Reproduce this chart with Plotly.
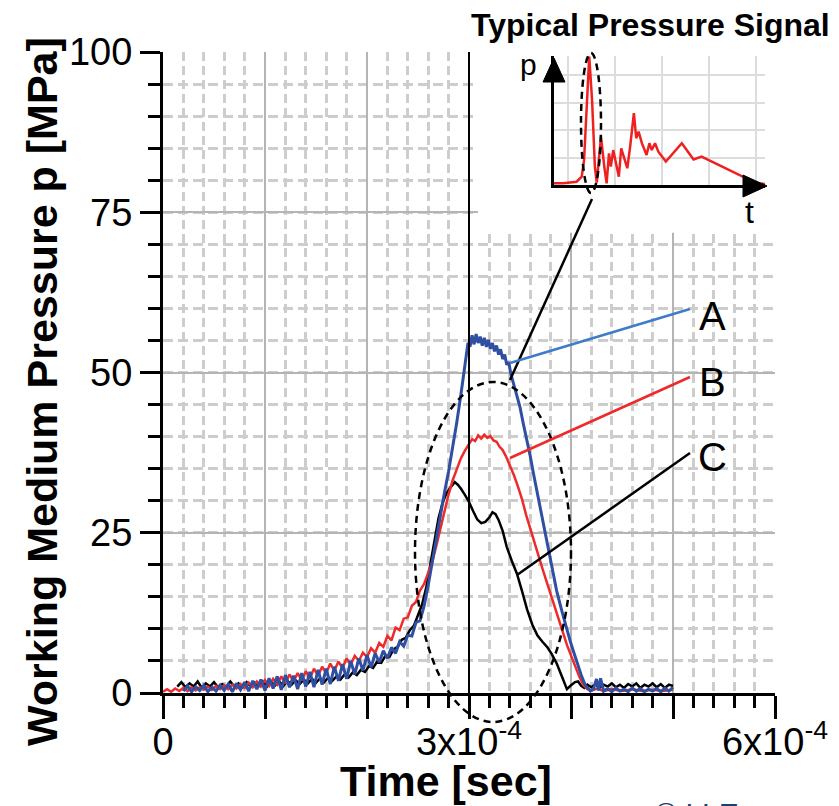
import plotly.graph_objects as go

# ---------------- data (time in microseconds, pressure in MPa) ----------------
A_t = [20,24,28,32,36,40,44,48,52,56,60,64,68,72,76,80,84,88,92,96,100,104,108,112,116,120,
       124,128,132,136,140,144,148,152,156,160,164,168,172,176,180,184,188,192,196,200,204,208,
       212,216,220,224,228,232,236,240,244,248,252,256,
       260,264,268,272,276,280,284,288,292,296,299,301,303,305,307,309,311,313,315,317,319,321,
       323,325,327,329,331,333,335,337,339,341,344,347,350,353,357,360,363,366,370,373,376,379,
       382,386,391,395,399,403,407,410,414,417,419,422,425,427,429,432,436,440,444,448,452,456,
       460,464,468,472,476,480,484,488,492,496,500]
A_p = [0.3,1.1,0.2,1.0,0.4,1.2,0.2,0.9,0.3,1.2,0.4,1.4,0.2,1.5,0.5,1.7,0.3,1.9,0.6,2.1,0.4,2.3,
       0.7,2.6,0.5,2.8,0.9,2.7,0.6,3.1,1.0,3.3,0.9,3.6,1.3,3.8,1.4,4.1,1.9,4.5,2.2,5.0,2.9,5.4,
       3.5,5.9,4.0,6.2,4.8,6.6,5.4,7.1,6.2,8.0,7.3,9.0,8.9,11.0,11.3,13.6,
       16.8,20.5,24.2,27.8,31.3,34.6,38.3,42.2,46.5,51.0,54.6,54.0,55.8,54.4,56.0,54.6,55.6,54.2,
       55.4,54.0,55.1,53.7,54.6,53.3,54.2,52.8,53.6,52.1,52.8,51.2,51.6,49.8,48.0,46.2,44.6,42.2,
       39.4,37.0,34.4,32.0,28.8,26.4,23.9,21.3,18.8,15.9,12.8,10.4,8.2,6.2,4.2,2.8,1.2,0.6,0.3,
       0.6,2.2,0.4,2.3,0.3,0.7,0.2,0.8,0.3,0.6,0.2,0.8,0.3,0.7,0.2,0.6,0.3,0.7,0.2,0.8,0.3,0.9]

B_t = [0,4,8,12,16,20,24,28,32,36,40,44,48,52,56,60,64,68,72,76,80,84,88,92,96,100,104,108,112,
       116,120,124,128,132,136,140,144,148,152,156,160,164,168,172,176,180,184,188,192,196,200,
       204,208,212,216,220,224,228,232,236,240,244,248,252,256,
       260,264,268,272,276,280,284,288,292,296,300,303,306,309,312,315,318,321,324,327,330,333,
       336,340,344,348,352,356,360,364,368,372,376,380,384,388,392,396,400,404,408,412,416,420,
       426,432,440,450,460,470,480,490,500]
B_p = [0.2,0.6,0.2,0.7,0.3,0.8,0.3,0.9,0.4,0.9,0.5,1.0,0.5,1.1,0.6,1.2,0.6,1.3,0.7,1.4,0.8,1.6,
       0.9,1.8,1.0,2.0,1.1,2.2,1.3,2.6,1.5,2.9,1.8,3.1,2.0,3.4,2.3,3.8,2.7,4.1,3.1,4.6,3.5,4.9,
       3.9,5.4,4.4,5.8,5.0,6.3,5.6,7.0,6.3,7.8,7.2,8.9,8.2,10.2,9.8,11.6,11.8,13.6,14.2,16.0,17.0,
       18.6,20.5,23.0,25.8,28.3,31.0,33.2,35.0,36.6,37.8,38.8,39.6,39.3,40.2,39.7,40.3,39.8,40.1,
       39.4,39.2,38.4,37.9,37.0,35.6,34.0,32.2,30.2,27.8,25.6,23.5,21.4,19.4,17.4,15.5,13.5,11.6,
       9.5,7.5,5.8,4.2,2.6,1.3,0.6,0.4,0.7,0.3,0.6,0.3,0.6,0.3,0.5,0.3,0.5]

C_t = [14,18,22,26,30,34,38,42,46,50,54,58,62,66,70,74,78,82,86,90,94,98,102,106,110,114,118,
       122,126,130,134,138,142,146,150,154,158,162,166,170,174,178,182,186,190,194,198,202,206,
       210,214,218,222,226,230,234,238,242,246,250,254,258,262,266,270,274,278,282,286,289,292,
       296,300,304,308,312,316,320,323,326,329,333,337,342,347,352,357,362,367,372,377,381,386,
       391,396,400,404,407,410,413,416,420,424,428,432,436,440,444,448,452,456,460,464,468,472,
       476,480,484,488,492,496,500]
C_p = [1.0,1.7,0.9,1.5,1.0,1.8,0.8,1.5,1.0,1.7,0.9,1.4,0.9,1.8,1.0,1.5,0.9,1.7,1.0,1.6,1.1,1.8,
       1.0,1.7,1.2,1.8,1.1,1.9,1.3,2.0,1.4,2.1,1.5,2.2,1.6,2.3,1.7,2.4,1.9,2.6,2.1,2.9,2.4,3.2,
       2.8,3.6,3.3,4.2,3.9,4.9,4.7,5.8,5.6,6.8,7.2,8.3,8.6,9.8,10.5,12.2,13.8,16.4,20.0,24.0,27.2,
       29.6,31.2,32.1,32.9,32.5,31.9,30.9,29.8,28.4,27.1,26.5,26.7,27.4,28.2,27.9,27.0,25.3,22.8,
       20.6,18.6,15.9,13.0,10.7,9.0,8.0,7.1,6.1,4.6,2.6,0.6,1.2,1.7,1.8,1.1,0.8,1.3,0.9,1.4,0.8,
       1.3,1.0,1.5,0.9,1.3,0.8,1.4,1.0,1.5,0.8,1.3,1.0,1.5,0.9,1.4,0.8,1.3,1.1]

# inset: typical pressure signal (arbitrary units)
S_t = [0.70,0.90,1.18,1.29,1.34,1.40,1.45,1.51,1.57,1.61,1.66,1.70,1.77,1.82,1.87,1.91,1.96,2.02,
       2.08,2.13,2.19,2.26,2.32,2.36,2.40,2.45,2.50,2.57,2.67,2.73,2.78,2.85,2.92,3.08,3.42,3.67,
       3.84,5.01,5.19]
S_p = [0.06,0.06,0.12,0.30,0.91,3.09,4.67,3.09,0.67,0.09,0.91,1.76,0.67,0.06,1.15,0.67,1.27,0.79,
       0.30,1.33,1.03,0.61,1.39,2.12,2.61,1.70,1.94,1.52,1.09,1.52,1.27,1.52,1.21,0.85,1.52,0.93,
       1.03,0.06,0.04]

# x tick labels (axis in microseconds, labelled in seconds)
x_labels = {"300": "3x10<sup>-4</sup>", "600": "6x10<sup>-4</sup>"}
y_tickvals = [0, 25, 50, 75, 100]

BLUE = "#2f4fa3"
RED = "#ee2a2a"
BLACK = "#000000"

# plot-area pixel geometry (for paper-coordinate decorations)
L, R, T, B = 163, 775, 52, 693
W, H = 839, 806
def px(x):
    return (x - L) / (R - L)
def py(y):
    return (B - y) / (B - T)

fig = go.Figure()
fig.add_trace(go.Scatter(x=C_t, y=C_p, mode="lines", line=dict(color=BLACK, width=2.5), showlegend=False))
fig.add_trace(go.Scatter(x=B_t, y=B_p, mode="lines", line=dict(color=RED, width=2.5), showlegend=False))
fig.add_trace(go.Scatter(x=A_t, y=A_p, mode="lines", line=dict(color=BLUE, width=3), showlegend=False))
fig.add_trace(go.Scatter(x=S_t, y=S_p, mode="lines", line=dict(color="#ee2020", width=2.5),
                         xaxis="x2", yaxis="y2", showlegend=False, cliponaxis=False))

FONT = "Liberation Sans, Arial, sans-serif"
tickfont = dict(family=FONT, size=38, color="black")
gridmajor = "#b4b4b4"
gridminor = "#cdcdcd"

fig.update_layout(
    width=W, height=H,
    margin=dict(l=L, r=W - R, t=T, b=H - B, pad=0),
    paper_bgcolor="white", plot_bgcolor="white",
    xaxis=dict(range=[0, 600], tickmode="linear", tick0=0, dtick=100, ticklabelstep=3,
               labelalias=x_labels,
               ticks="outside", ticklen=23, tickwidth=3, tickcolor="black",
               showline=True, linewidth=3, linecolor="black", zeroline=False,
               showgrid=True, gridcolor=gridmajor, gridwidth=1.5, tickfont=tickfont,
               ticklabelstandoff=-10,
               minor=dict(tickmode="linear", tick0=0, dtick=20, ticks="outside", ticklen=12,
                          tickwidth=3, tickcolor="black", showgrid=True, gridcolor=gridminor,
                          gridwidth=2.5, griddash="9px,5px")),
    yaxis=dict(range=[0, 100], tickmode="array", tickvals=y_tickvals,
               ticks="outside", ticklen=20, tickwidth=3, tickcolor="black",
               showline=True, linewidth=3, linecolor="black", zeroline=False,
               showgrid=True, gridcolor=gridmajor, gridwidth=1.5, tickfont=tickfont,
               ticksuffix="\u00a0",
               minor=dict(tickmode="linear", tick0=0, dtick=5, ticks="outside", ticklen=12,
                          tickwidth=3, tickcolor="black", showgrid=True, gridcolor=gridminor,
                          gridwidth=2.5, griddash="10px,5px")),
    xaxis2=dict(domain=[px(554), px(765)], range=[0.70, 5.19], anchor="y2",
                showline=True, linewidth=3, linecolor="black", ticks="", showticklabels=False,
                tickmode="array", tickvals=[1, 2, 3, 4, 5], showgrid=True,
                gridcolor="#dcdcdc", gridwidth=2, zeroline=False),
    yaxis2=dict(domain=[py(185), py(55.75)], range=[0, 4.7], anchor="x2",
                showline=True, linewidth=3, linecolor="black", ticks="", showticklabels=False,
                tickmode="array", tickvals=[1, 2, 3, 4], showgrid=True,
                gridcolor="#dcdcdc", gridwidth=2, zeroline=False),
)

shapes = []
# white mask over grid where the inset sits
shapes.append(dict(type="rect", xref="x", yref="y", x0=308.8, x1=600, y0=71.8, y1=100,
                   fillcolor="white", line=dict(width=0), layer="between"))
# vertical line at 3x10^-4
shapes.append(dict(type="line", xref="x", yref="paper", x0=300, x1=300, y0=0, y1=1,
                   line=dict(color="black", width=2), layer="above"))
# dashed ellipse around peaks
shapes.append(dict(type="circle", xref="paper", yref="paper", x0=px(415), x1=px(571),
                   y0=py(722), y1=py(382), line=dict(color="black", width=2.5, dash="7px,5px")))
# inset ellipse
shapes.append(dict(type="circle", xref="paper", yref="paper", x0=px(581), x1=px(601),
                   y0=py(193), y1=py(53), line=dict(color="black", width=2.5, dash="7px,5px")))
# pointer from main ellipse to inset ellipse
shapes.append(dict(type="line", xref="paper", yref="paper", x0=px(510), y0=py(380),
                   x1=px(592), y1=py(199), line=dict(color="black", width=2.5)))
# leader lines
shapes.append(dict(type="line", xref="paper", yref="paper", x0=px(510), y0=py(363),
                   x1=px(690), y1=py(309), line=dict(color="#3d7cc9", width=2.5)))
shapes.append(dict(type="line", xref="paper", yref="paper", x0=px(510), y0=py(458),
                   x1=px(690), y1=py(377), line=dict(color="#ee2a2a", width=2.5)))
shapes.append(dict(type="line", xref="paper", yref="paper", x0=px(517), y0=py(575),
                   x1=px(690), y1=py(453), line=dict(color="black", width=2.5)))
# inset arrowheads
shapes.append(dict(type="path", xref="paper", yref="paper",
                   path=f"M {px(554)},{py(58)} L {px(543)},{py(82)} L {px(565)},{py(82)} Z",
                   fillcolor="black", line=dict(color="black", width=1)))
shapes.append(dict(type="path", xref="paper", yref="paper",
                   path=f"M {px(767)},{py(186)} L {px(743)},{py(175)} L {px(743)},{py(197)} Z",
                   fillcolor="black", line=dict(color="black", width=1)))
fig.update_layout(shapes=shapes)

def note(text, x, y, size, bold=False, angle=0, color="black", yanchor="middle"):
    return dict(text=f"<b>{text}</b>" if bold else text, xref="paper", yref="paper",
                x=px(x), y=py(y), xanchor="center", yanchor=yanchor, textangle=angle,
                showarrow=False, font=dict(family=FONT, size=size, color=color))

ann = [
    note("Working Medium Pressure p [MPa]", 42, 392, 43, bold=True, angle=-90),
    note("Time [sec]", 446, 781, 43, bold=True),
    note("Typical Pressure Signal", 650, 25, 32, bold=True),
    note("A", 712, 316, 40),
    note("B", 712, 382, 40),
    note("C", 712, 457, 40),
    note("p", 528, 64, 30),
    note("t", 749, 212, 32),
    note("© LLE", 697, 795, 30, color="#1f3f73", yanchor="top"),
]
fig.update_layout(annotations=ann)

fig.write_html("out.html", config={"displayModeBar": False},
               post_script="document.body.style.margin='0px';")
